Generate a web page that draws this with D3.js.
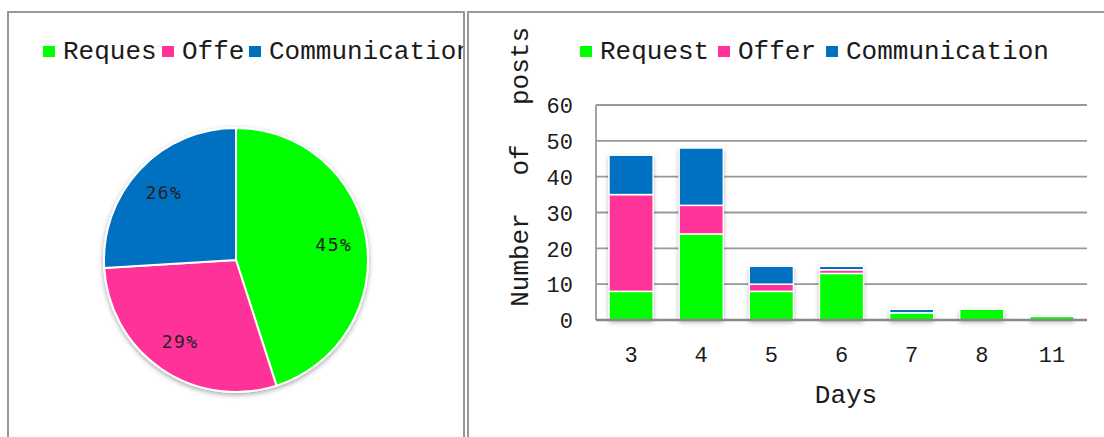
<!DOCTYPE html>
<html><head><meta charset="utf-8">
<script src="https://cdn.jsdelivr.net/npm/d3@7"></script>
<style>html,body{margin:0;padding:0;background:#fff;}svg{display:block;}</style>
</head><body>
<svg id="c" width="1104" height="437"></svg>
<script>
const series = ["Request", "Offer", "Communication"];
const colors = ["#00FF00", "#FF3399", "#0070C0"];
const days = ["3", "4", "5", "6", "7", "8", "11"];
const requestVals = [8, 24, 8, 13, 2, 3, 1];
const offerVals = [27, 8, 2, 1, 0, 0, 0];
const commVals = [11, 16, 5, 1, 1, 0, 0];
const yTicks = [0, 10, 20, 30, 40, 50, 60];
const pieLabels = ["45%", "29%", "26%"];

const svg = d3.select("#c");
const mono = "'Liberation Mono','Courier New',monospace";
const txt = "#1a1a1a";

const defs = svg.append("defs");
const f = defs.append("filter").attr("id", "sh").attr("x", "-30%").attr("y", "-30%").attr("width", "160%").attr("height", "160%");
f.append("feDropShadow").attr("dx", 0).attr("dy", 2).attr("stdDeviation", 2.5).attr("flood-color", "#000").attr("flood-opacity", 0.35);

// panels
svg.append("rect").attr("x", 8).attr("y", 12).attr("width", 456).attr("height", 440)
  .attr("fill", "none").attr("stroke", "#999").attr("stroke-width", 2);
svg.append("rect").attr("x", 468).attr("y", 12).attr("width", 700).attr("height", 440)
  .attr("fill", "none").attr("stroke", "#999").attr("stroke-width", 2);

// ---- Pie ----
const totals = [d3.sum(requestVals), d3.sum(offerVals), d3.sum(commVals)];
const pie = d3.pie().sort(null).value(d => d)(totals);
const R = 132;
const arc = d3.arc().innerRadius(0).outerRadius(R);
const lblArc = d3.arc().innerRadius(99).outerRadius(99);
const pg = svg.append("g").attr("transform", "translate(236,260)");
pg.append("g").attr("filter", "url(#sh)").selectAll("path").data(pie).join("path")
  .attr("d", arc).attr("fill", (d, i) => colors[i]).attr("stroke", "#fff").attr("stroke-width", 2);
pg.selectAll("text").data(pie).join("text")
  .attr("transform", d => `translate(${lblArc.centroid(d)})`)
  .attr("text-anchor", "middle").attr("dominant-baseline", "central")
  .attr("font-family", "'DejaVu Sans Mono',monospace").attr("font-size", 18)
  .attr("letter-spacing", 1.5).attr("fill", "#222")
  .text((d, i) => pieLabels[i]);

// left legend (each item clipped to its slot)
const llx = [43, 162, 249];
const llEnd = [159, 247, 463];
series.forEach((s, i) => {
  defs.append("clipPath").attr("id", "lc" + i).append("rect")
    .attr("x", llx[i]).attr("y", 20).attr("width", llEnd[i] - llx[i]).attr("height", 60);
  const g = svg.append("g").attr("clip-path", `url(#lc${i})`);
  g.append("rect").attr("x", llx[i]).attr("y", 46).attr("width", 12).attr("height", 11).attr("fill", colors[i]);
  g.append("text").attr("x", llx[i] + 20).attr("y", 59).attr("font-family", mono)
    .attr("font-size", 26).attr("fill", txt).text(s);
});

// ---- Bar chart ----
const x = d3.scaleBand().domain(days).range([596, 1087]).paddingInner(0.37).paddingOuter(0.185);
const y = d3.scaleLinear().domain([0, 60]).range([320, 105]);

const grid = svg.append("g");
grid.selectAll("line").data(yTicks.filter(t => t > 0)).join("line")
  .attr("x1", 596).attr("x2", 1087).attr("y1", d => y(d)).attr("y2", d => y(d))
  .attr("stroke", "#999").attr("stroke-width", 1.8);
svg.append("line").attr("x1", 596).attr("x2", 596).attr("y1", y(60)).attr("y2", y(0))
  .attr("stroke", "#999").attr("stroke-width", 1.8);

const rows = days.map((d, i) => ({ day: d, Request: requestVals[i], Offer: offerVals[i], Communication: commVals[i] }));
const stacked = d3.stack().keys(series)(rows);
const bg = svg.append("g");
bg.append("g").attr("filter", "url(#sh)").selectAll("rect").data(rows).join("rect")
  .attr("x", d => x(d.day)).attr("width", x.bandwidth())
  .attr("y", d => y(d.Request + d.Offer + d.Communication))
  .attr("height", d => y(0) - y(d.Request + d.Offer + d.Communication))
  .attr("fill", "#fff");
stacked.forEach((layer, i) => {
  bg.append("g").selectAll("rect").data(layer.filter(d => d[1] > d[0])).join("rect")
    .attr("x", d => x(d.data.day)).attr("width", x.bandwidth())
    .attr("y", d => y(d[1])).attr("height", d => y(d[0]) - y(d[1]))
    .attr("fill", colors[i]).attr("stroke", "#fff").attr("stroke-width", 1.5);
});

svg.append("line").attr("x1", 596).attr("x2", 1087).attr("y1", y(0)).attr("y2", y(0))
  .attr("stroke", "#888").attr("stroke-width", 2.5);

// y ticks
const yAxis = d3.axisLeft(y).tickValues(yTicks).tickSize(0).tickPadding(0);
const ya = svg.append("g").attr("transform", "translate(573,0)").call(yAxis);
ya.select(".domain").remove();
ya.selectAll("text").attr("font-family", mono).attr("font-size", 22).attr("fill", txt)
  .attr("dy", "0.35em").attr("x", 0);

// x ticks
const xAxis = d3.axisBottom(x).tickSize(0).tickPadding(0);
const xa = svg.append("g").attr("transform", "translate(0,362)").call(xAxis);
xa.select(".domain").remove();
xa.selectAll("text").attr("font-family", mono).attr("font-size", 22).attr("fill", txt)
  .attr("y", 0).attr("dy", 0);

// axis titles
svg.append("text").attr("x", 846).attr("y", 403).attr("text-anchor", "middle")
  .attr("font-family", mono).attr("font-size", 26).attr("fill", txt).text("Days");
const yWords = [["Number", 260], ["of", 160], ["posts", 66]];
yWords.forEach(([w, cy]) => {
  svg.append("text").attr("transform", `translate(528,${cy}) rotate(-90)`).attr("text-anchor", "middle")
    .attr("font-family", mono).attr("font-size", 26).attr("fill", txt).text(w);
});

// right legend
const rlx = [580, 718, 826];
series.forEach((s, i) => {
  svg.append("rect").attr("x", rlx[i]).attr("y", 46).attr("width", 12).attr("height", 11).attr("fill", colors[i]);
  svg.append("text").attr("x", rlx[i] + 20).attr("y", 59).attr("font-family", mono)
    .attr("font-size", 26).attr("fill", txt).text(s);
});
</script>
</body></html>
